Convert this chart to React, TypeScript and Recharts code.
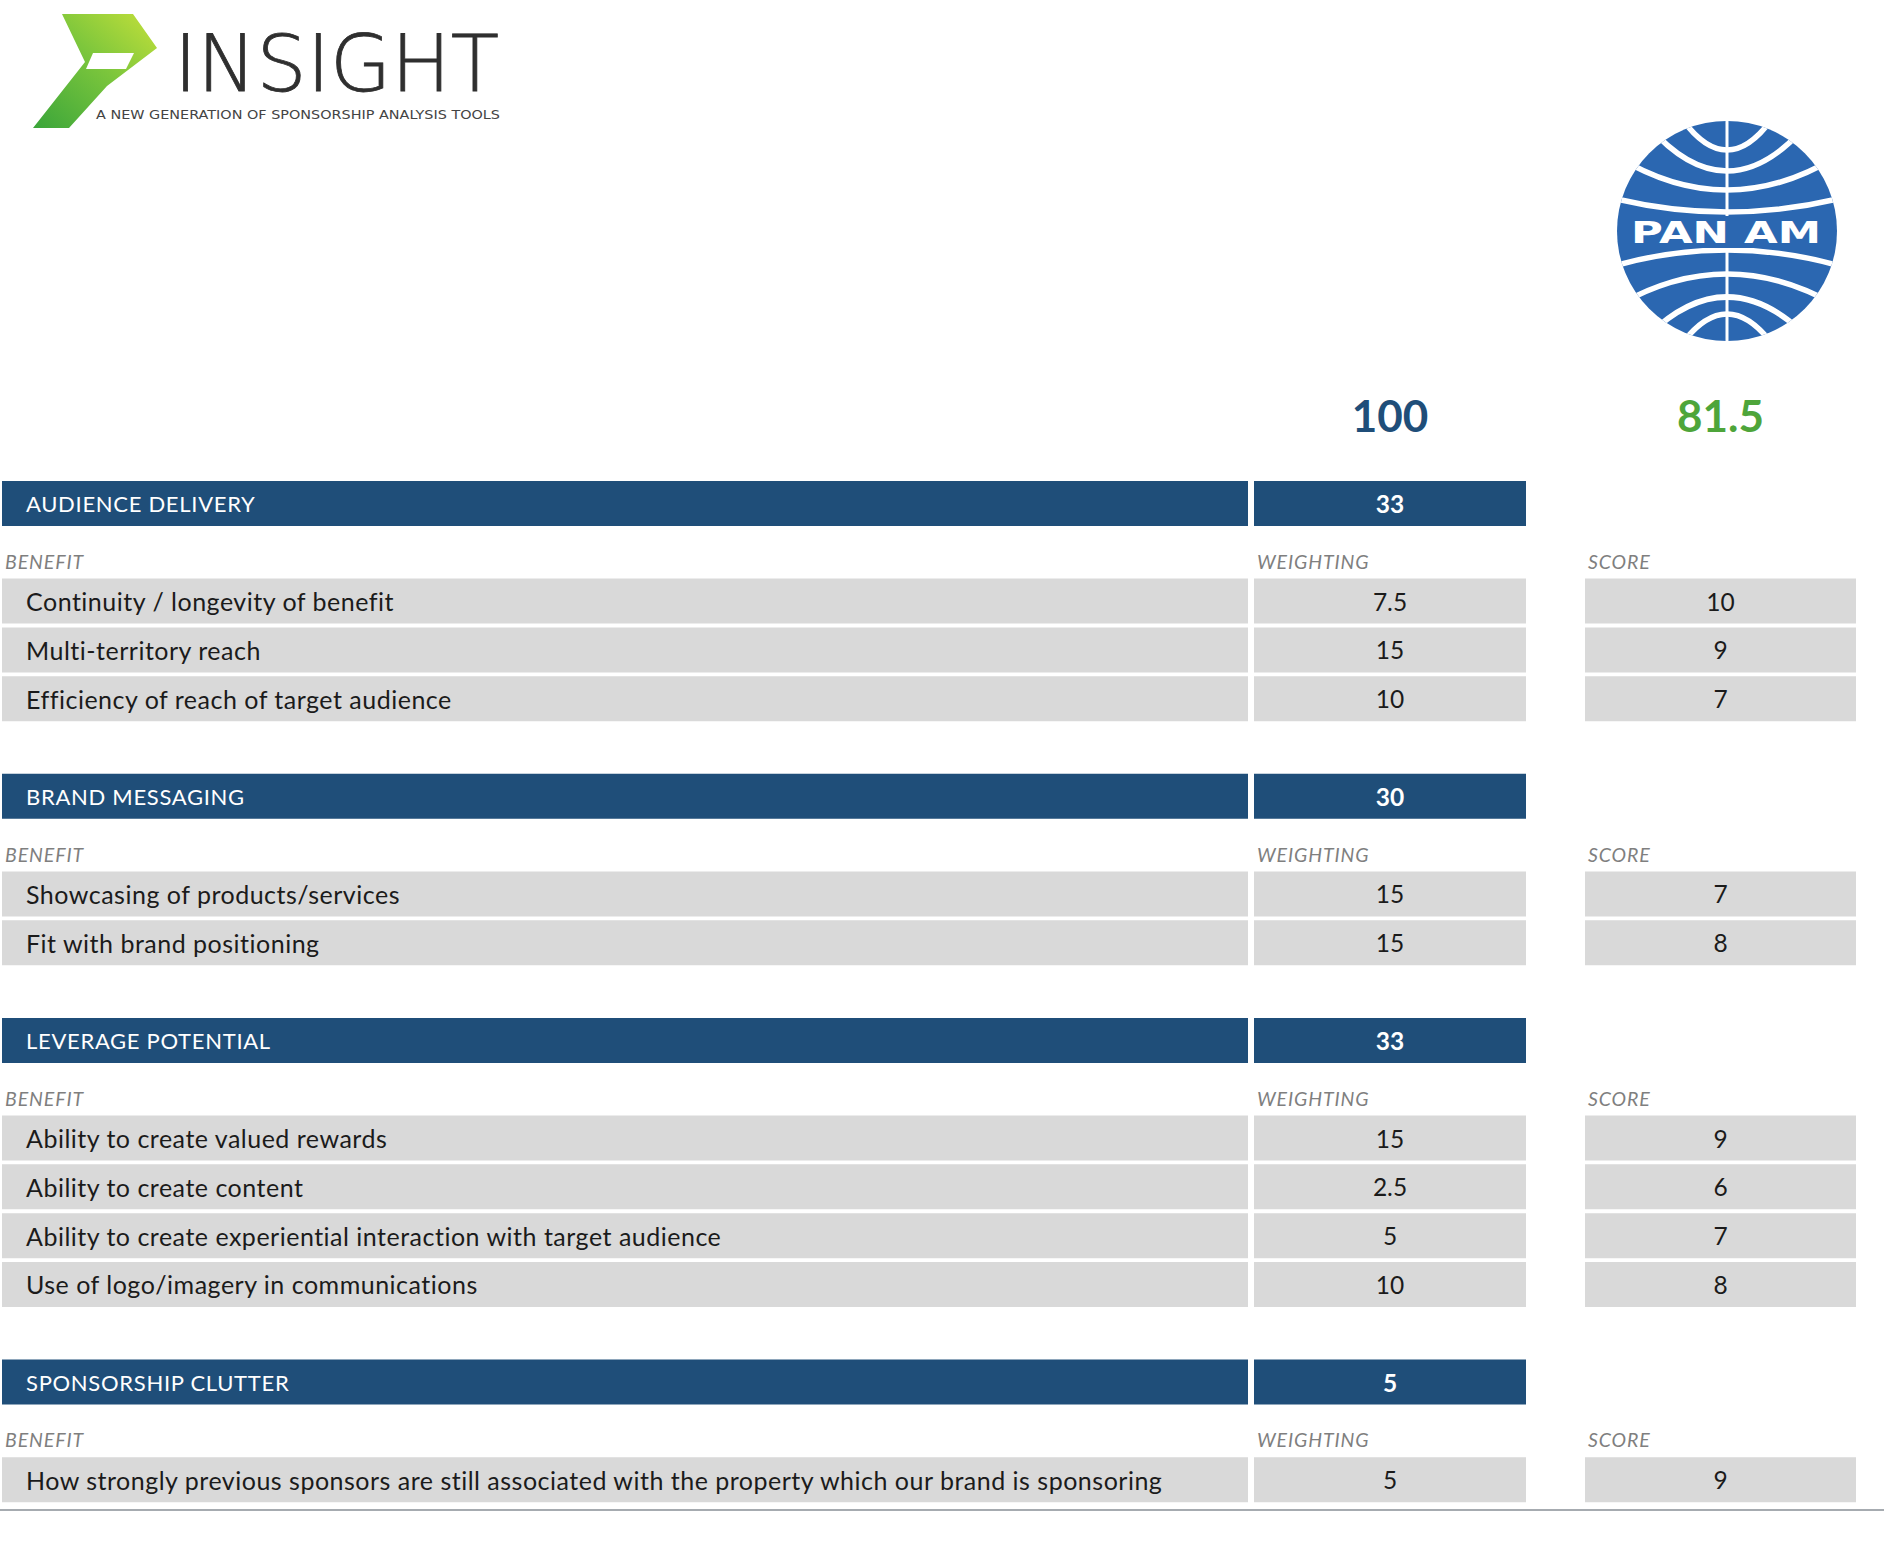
import React from 'react';
import { BarChart, Bar, XAxis, YAxis, Cell, LabelList } from 'recharts';

// scorecard content
const SECTIONS = ['AUDIENCE DELIVERY', 'BRAND MESSAGING', 'LEVERAGE POTENTIAL', 'SPONSORSHIP CLUTTER'];
const SECTION_WEIGHTS = [33, 30, 33, 5];
const BENEFITS = [
  ['Continuity / longevity of benefit', 'Multi-territory reach', 'Efficiency of reach of target audience'],
  ['Showcasing of products/services', 'Fit with brand positioning'],
  [
    'Ability to create valued rewards',
    'Ability to create content',
    'Ability to create experiential interaction with target audience',
    'Use of logo/imagery in communications',
  ],
  ['How strongly previous sponsors are still associated with the property which our brand is sponsoring'],
];
const WEIGHTINGS = [[7.5, 15, 10], [15, 15], [15, 2.5, 5, 10], [5]];
const SCORES = [[10, 9, 7], [7, 8], [9, 6, 7, 8], [9]];
const COLUMN_LABELS = ['BENEFIT', 'WEIGHTING', 'SCORE'];
const TOTAL_WEIGHTING = 100;
const TOTAL_SCORE = 81.5;

// layout
const W = 1884;
const H = 1556;
const COL_BENEFIT: [number, number] = [2, 1248];
const COL_WEIGHT: [number, number] = [1254, 1526];
const COL_SCORE: [number, number] = [1585, 1856];
const FONT = 'Lato, "Open Sans", sans-serif';
const BLUE = '#1f4e79';
const GREY = '#d9d9d9';
const INK = '#1b1b1b';
const MUTED = '#7f7f7f';

type Row = {
  id: string;
  kind: 'header' | 'label' | 'item' | 'gap';
  benefit?: string;
  weight?: string;
  score?: string;
};

const rows: Row[] = [];
SECTIONS.forEach((name, s) => {
  rows.push({ id: `h${s}`, kind: 'header', benefit: name, weight: String(SECTION_WEIGHTS[s]) });
  rows.push({
    id: `l${s}`,
    kind: 'label',
    benefit: COLUMN_LABELS[0],
    weight: COLUMN_LABELS[1],
    score: COLUMN_LABELS[2],
  });
  BENEFITS[s].forEach((b, i) => {
    rows.push({
      id: `i${s}-${i}`,
      kind: 'item',
      benefit: b,
      weight: String(WEIGHTINGS[s][i]),
      score: String(SCORES[s][i]),
    });
  });
  if (s < SECTIONS.length - 1) rows.push({ id: `g${s}`, kind: 'gap' });
});

const rowById: Record<string, Row> = Object.fromEntries(rows.map((r) => [r.id, r]));

const fillFor = (kind: Row['kind']) => (kind === 'header' ? BLUE : kind === 'item' ? GREY : 'none');

function makeText(field: 'benefit' | 'weight' | 'score') {
  return function CellText(props: any) {
    const { x, y, width, height, value } = props;
    const row = rowById[value];
    if (!row || row.kind === 'gap' || !row[field]) return null;
    const text = row[field];
    if (row.kind === 'label') {
      return (
        <text
          x={x + 3}
          y={y + height - 6}
          fontFamily={FONT}
          fontStyle="italic"
          fontSize={19.5}
          letterSpacing={0.9}
          fill={MUTED}
        >
          {text}
        </text>
      );
    }
    const cy = y + height / 2;
    if (field === 'benefit') {
      const isHead = row.kind === 'header';
      return (
        <text
          x={x + 24}
          y={cy}
          dominantBaseline="central"
          fontFamily={FONT}
          fontSize={isHead ? 22 : 25}
          letterSpacing={isHead ? 0.7 : 0.5}
          fill={isHead ? '#ffffff' : INK}
        >
          {text}
        </text>
      );
    }
    return (
      <text
        x={x + width / 2}
        y={cy}
        textAnchor="middle"
        dominantBaseline="central"
        fontFamily={FONT}
        fontSize={24.5}
        fontWeight={row.kind === 'header' ? 700 : 400}
        fill={row.kind === 'header' ? '#ffffff' : INK}
      >
        {text}
      </text>
    );
  };
}

const BenefitText = makeText('benefit');
const WeightText = makeText('weight');
const ScoreText = makeText('score');

function Decorations() {
  const cx = 1727;
  const cy = 231;
  const r = 110;
  // latitude lines of the globe: [edge half-width, edge dy, centre dy]
  const lats = [
    [37, -102, -81],
    [61, -87, -60],
    [87, -62, -41],
    [106, -31, -19],
    [106, 33, 19],
    [87, 63, 43],
    [61, 89, 66],
    [37, 103, 83],
  ];
  return (
    <svg width={W} height={H} style={{ position: 'absolute', left: 0, top: 0, pointerEvents: 'none' }}>
      <defs>
        <linearGradient id="pGrad" x1="0" y1="1" x2="1" y2="0">
          <stop offset="0%" stopColor="#3aa53a" />
          <stop offset="55%" stopColor="#7cc63c" />
          <stop offset="100%" stopColor="#c4e03a" />
        </linearGradient>
        <clipPath id="globe">
          <circle cx={cx} cy={cy} r={r} />
        </clipPath>
      </defs>

      {/* Insight logo */}
      <path
        d="M62,14 L133,14 L157,48 L107,86 L69,128 L33,128 L85,62 Z M93,53 L134,53 L126,69 L86,69 Z"
        fill="url(#pGrad)"
        fillRule="evenodd"
      />
      <text x={174} y={91} fontFamily='"DejaVu Sans"' fontWeight={200} fontSize={78} fill="#2f2f2f" stroke="#2f2f2f" strokeWidth={0.8} textLength={325} lengthAdjust="spacingAndGlyphs">
        INSIGHT
      </text>
      <text x={96} y={119} fontFamily='"DejaVu Sans"' fontSize={13} fill="#444" textLength={404} lengthAdjust="spacingAndGlyphs">
        A NEW GENERATION OF SPONSORSHIP ANALYSIS TOOLS
      </text>

      {/* Pan Am globe */}
      <circle cx={cx} cy={cy} r={r} fill="#2b67b1" />
      <g clipPath="url(#globe)" stroke="#ffffff" strokeWidth={5.5} fill="none">
        <line x1={cx} y1={cy - r} x2={cx} y2={cy + r} strokeWidth={3} />
        {lats.map(([dx, dyE, dyC], i) => {
          const L = dx * 1.3;
          const k = (dyE - dyC) / (dx * dx);
          const yEnd = cy + dyC + k * L * L;
          const ctrl = cy + dyC - k * L * L;
          return <path key={i} d={`M${cx - L},${yEnd} Q${cx},${ctrl} ${cx + L},${yEnd}`} />;
        })}
      </g>
      <rect x={cx - 100} y={cy - 15} width={200} height={32} fill="#2b67b1" />
      <text x={cx - 96} y={cy + 12} fontFamily='"DejaVu Sans"' fontWeight={700} fontSize={30} fill="#ffffff" textLength={190} lengthAdjust="spacingAndGlyphs">
        PAN AM
      </text>

      {/* totals */}
      <text x={(COL_WEIGHT[0] + COL_WEIGHT[1]) / 2} y={415} textAnchor="middle" dominantBaseline="central" fontFamily={FONT} fontWeight={700} fontSize={44} fill={BLUE}>
        {TOTAL_WEIGHTING}
      </text>
      <text x={(COL_SCORE[0] + COL_SCORE[1]) / 2} y={415} textAnchor="middle" dominantBaseline="central" fontFamily={FONT} fontWeight={700} fontSize={44} fill="#4ea53a">
        {TOTAL_SCORE}
      </text>

      <line x1={0} y1={1510} x2={W} y2={1510} stroke="#a6abb0" strokeWidth={2} />
    </svg>
  );
}

export default function App() {
  return (
    <div style={{ position: 'absolute', left: 0, top: 0, width: W, height: H, background: '#ffffff' }}>
      <BarChart
        width={W}
        height={H}
        data={rows}
        layout="vertical"
        margin={{ top: 479, right: 0, bottom: 52, left: 0 }}
        barSize={45}
        barGap={-45}
        barCategoryGap={0}
      >
        <XAxis type="number" domain={[0, W]} allowDataOverflow hide />
        <YAxis type="category" dataKey="id" hide />
        <Bar dataKey={(r: Row) => (r.kind === 'gap' ? [0, 0] : COL_BENEFIT)} isAnimationActive={false}>
          {rows.map((r) => (
            <Cell key={r.id} fill={fillFor(r.kind)} />
          ))}
          <LabelList dataKey="id" content={BenefitText} />
        </Bar>
        <Bar dataKey={(r: Row) => (r.kind === 'gap' ? [0, 0] : COL_WEIGHT)} isAnimationActive={false}>
          {rows.map((r) => (
            <Cell key={r.id} fill={fillFor(r.kind)} />
          ))}
          <LabelList dataKey="id" content={WeightText} />
        </Bar>
        <Bar dataKey={(r: Row) => (r.kind === 'label' || r.kind === 'item' ? COL_SCORE : [0, 0])} isAnimationActive={false}>
          {rows.map((r) => (
            <Cell key={r.id} fill={fillFor(r.kind)} />
          ))}
          <LabelList dataKey="id" content={ScoreText} />
        </Bar>
      </BarChart>
      <Decorations />
    </div>
  );
}
